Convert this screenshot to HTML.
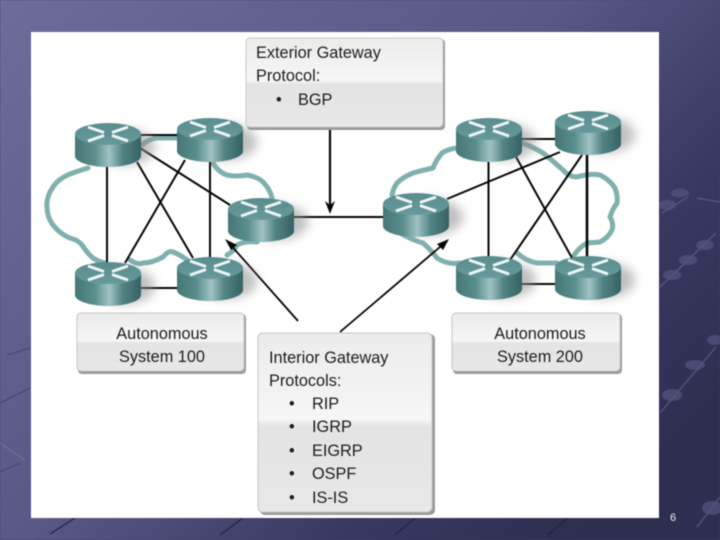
<!DOCTYPE html>
<html><head><meta charset="utf-8"><style>
html,body{margin:0;padding:0;width:720px;height:540px;overflow:hidden;background:#444470}
svg{display:block;filter:blur(0.45px)}
text{font-family:"Liberation Sans",sans-serif;font-size:16.3px;fill:#1c1c1c}
</style></head><body>
<svg width="720" height="540" viewBox="0 0 720 540" xmlns="http://www.w3.org/2000/svg">
<defs>
<linearGradient id="bg" x1="0" y1="0" x2="1" y2="0.75">
<stop offset="0" stop-color="#6c6c9d"/><stop offset="0.5" stop-color="#595988"/><stop offset="0.76" stop-color="#3a3a62"/><stop offset="1" stop-color="#2e2e50"/>
</linearGradient>
<linearGradient id="side" x1="0" y1="0" x2="1" y2="0">
<stop offset="0" stop-color="#467676"/><stop offset="0.3" stop-color="#5a8e8e"/><stop offset="0.52" stop-color="#a0c2c2"/><stop offset="0.72" stop-color="#528484"/><stop offset="1" stop-color="#366264"/>
</linearGradient>
<linearGradient id="top" x1="0" y1="0" x2="0" y2="1">
<stop offset="0" stop-color="#5a8d8e"/><stop offset="1" stop-color="#679a9b"/>
</linearGradient>
<linearGradient id="box" x1="0" y1="0" x2="0" y2="1">
<stop offset="0" stop-color="#ececec"/><stop offset="0.48" stop-color="#f6f6f6"/><stop offset="0.52" stop-color="#e4e4e4"/><stop offset="1" stop-color="#e8e8e8"/>
</linearGradient>
<filter id="soft" x="-50%" y="-50%" width="200%" height="200%"><feGaussianBlur stdDeviation="5"/></filter>
<g id="r">
<ellipse cx="50" cy="24" rx="30" ry="18" fill="#8c8c8c" opacity="0.55" filter="url(#soft)"/>
<path d="M0 11V33C0 39 15 44 33 44S66 39 66 33V11Z" fill="url(#side)"/>
<ellipse cx="33" cy="11" rx="33" ry="11" fill="url(#top)"/>
<path d="M13 4L29 9.500M37 12.500L53 18M53 4L37 9.500M29 12.500L13 18" stroke="#eef5f5" stroke-width="2.8" fill="none"/>
</g>
</defs>
<rect width="720" height="540" fill="url(#bg)"/>
<g stroke="#64648f" stroke-width="1.3" fill="none" opacity="0.75">
<path d="M662 213L688 197M660 287L716 233M660 413L716 347M697 527L720 497M697 198L720 202"/>
</g>
<g fill="#53537e" opacity="0.75">
<ellipse cx="680" cy="193" rx="9" ry="4.5"/><ellipse cx="667" cy="205" rx="9" ry="5"/><ellipse cx="688" cy="260" rx="9" ry="5"/><ellipse cx="672" cy="275" rx="9" ry="5"/><ellipse cx="705" cy="245" rx="9" ry="5"/><ellipse cx="715" cy="340" rx="8" ry="5"/><ellipse cx="695" cy="365" rx="10" ry="5"/><ellipse cx="672" cy="395" rx="10" ry="6"/><ellipse cx="712" cy="508" rx="10" ry="7"/>
</g>
<g stroke="#3c3c66" stroke-width="1" fill="none" opacity="0.8">
<path d="M7 355L30 348M0 403L30 388M0 472L20 463"/>
</g>
<path d="M0 443L25 460" stroke="#7878a8" stroke-width="1.4" opacity="0.6"/>
<g stroke="#22223c" stroke-width="1.2" fill="none">
<path d="M50 534L75 518M220 535L243 518M395 535L415 518M548 535L568 518"/>
</g>
<rect x="31" y="32" width="628" height="486" fill="#fff"/>

<g fill="none" stroke="#80b0ae" stroke-width="5" stroke-linejoin="round" stroke-linecap="round">
<path d="M88 168Q78 171 70 174Q58 179 53 187Q46 197 47 207Q47 217 53 225Q60 234 70 238Q78 240 82 245Q88 254 93 258Q99 262 105 263"/>
<path d="M142 145Q148 139 157 138L177 138"/>
<path d="M213 163Q218 172 227 175Q236 177 247 175Q258 177 263 182Q270 189 272 198"/>
<path d="M130 260Q137 265 143 263Q152 263 163 257Q169 250 173 252Q181 255 190 262"/>
<path d="M227 255Q233 252 237 245Q244 241 257 242"/>
<path d="M457 148Q448 149 442 153Q436 160 433 168Q423 170 413 173Q403 177 397 183Q393 189 392 195"/>
<path d="M400 233Q412 240 423 243Q431 250 437 258Q447 265 460 263"/>
<path d="M522 143Q533 147 543 153Q553 161 563 170Q569 177 577 177Q590 173 600 175Q610 180 615 188Q618 196 617 203Q612 210 610 217Q614 224 612 230Q608 238 600 242L587 243Q578 248 573 257"/>
<path d="M517 253Q526 261 537 263L557 263"/>
</g>

<g stroke="#050505" stroke-width="2" fill="none">
<path d="M136 135H180M141 288H180M293 217H384M520 139H556M521 284H556"/>
<path d="M107 166V263M210 162V258M488.500 161V258"/>
<path d="M587 155V258" stroke-width="2.6"/>
<path d="M140 148L230 205M137 162L193 258M185 160L125 263"/>
<path d="M447 199L560 152M515 155L572 258M582 155L510 260"/>
</g>
<path d="M330 130V208" stroke="#050505" stroke-width="2.2" fill="none"/>
<path d="M325 201L330 214L335 201L330 205Z" fill="#050505"/>
<path d="M298 321L228 242" stroke="#050505" stroke-width="1.8" fill="none"/>
<path d="M225 239L237 245L231 250Z" fill="#050505"/>
<path d="M340 332L447 241" stroke="#050505" stroke-width="1.8" fill="none"/>
<path d="M449 239L437 244L443 250Z" fill="#050505"/>

<use href="#r" x="75" y="123"/>
<use href="#r" x="177" y="118"/>
<use href="#r" x="228" y="198"/>
<use href="#r" x="75" y="262"/>
<use href="#r" x="177" y="257"/>
<use href="#r" x="456" y="118"/>
<use href="#r" x="555" y="111"/>
<use href="#r" x="383" y="193"/>
<use href="#r" x="456" y="256"/>
<use href="#r" x="555" y="256"/>

<g stroke="#c6c6c6" stroke-width="1">
<rect x="247" y="39" width="198" height="91" rx="4" fill="#9a9a9a" stroke="none"/>
<rect x="246" y="38" width="197" height="89" rx="4" fill="url(#box)"/>
<rect x="78" y="314" width="168" height="60" rx="4" fill="#9a9a9a" stroke="none"/>
<rect x="77" y="313" width="167" height="58" rx="4" fill="url(#box)"/>
<rect x="453" y="314" width="169" height="60" rx="4" fill="#9a9a9a" stroke="none"/>
<rect x="452" y="313" width="168" height="58" rx="4" fill="url(#box)"/>
<rect x="260" y="334" width="175" height="181" rx="5" fill="#9a9a9a" stroke="none"/>
<rect x="258" y="333" width="174" height="179" rx="5" fill="url(#box)"/>
</g>

<text x="256" y="58">Exterior Gateway</text>
<text x="256" y="81">Protocol:</text>
<text x="276" y="105">•</text>
<text x="298" y="105">BGP</text>

<text x="162" y="339" text-anchor="middle">Autonomous</text>
<text x="162" y="362" text-anchor="middle">System 100</text>
<text x="540" y="339" text-anchor="middle">Autonomous</text>
<text x="540" y="362" text-anchor="middle">System 200</text>

<text x="269" y="363">Interior Gateway</text>
<text x="269" y="386">Protocols:</text>
<text x="289" y="409">•</text><text x="312" y="409">RIP</text>
<text x="289" y="432">•</text><text x="312" y="432">IGRP</text>
<text x="289" y="456">•</text><text x="312" y="456">EIGRP</text>
<text x="289" y="479">•</text><text x="312" y="479">OSPF</text>
<text x="289" y="503">•</text><text x="312" y="503">IS-IS</text>

<text x="670" y="521" style="font-size:11px;fill:#f0f0f0">6</text>
</svg>
</body></html>
